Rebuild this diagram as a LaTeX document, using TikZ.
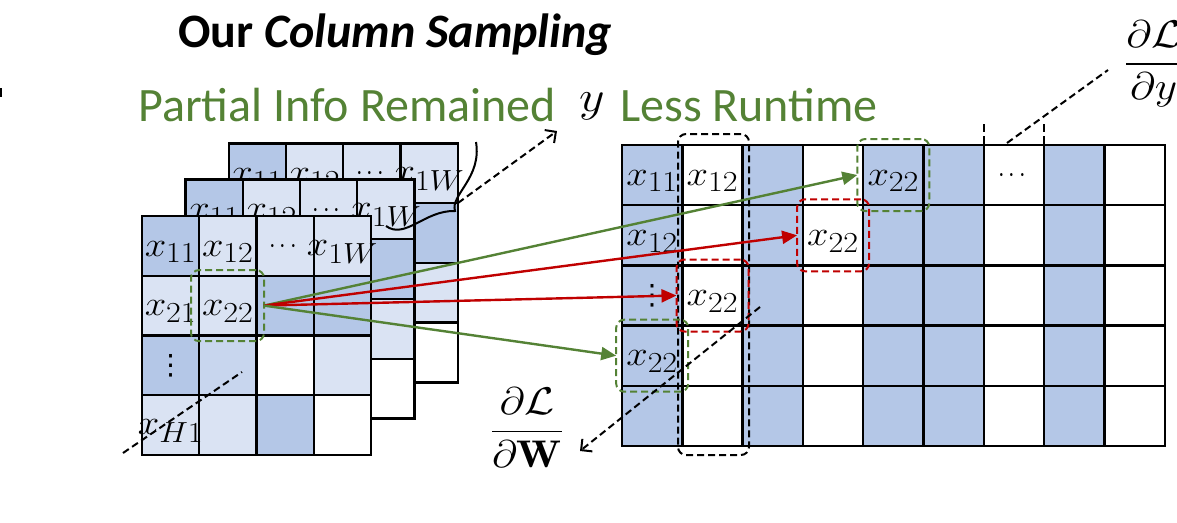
\RequirePackage{fix-cm}
\documentclass[tikz,border=0pt]{standalone}
\usepackage{amsmath}
\usepackage{graphicx}
\usepackage{fontspec}
\newfontfamily\carlito{Carlito}
\newfontfamily\djv{DejaVu Sans}
\usetikzlibrary{arrows.meta}
\definecolor{dblue}{HTML}{B4C7E7}
\definecolor{lblue}{HTML}{DAE3F3}
\definecolor{mblue}{HTML}{C8D6EE}
\definecolor{ogreen}{HTML}{548235}
\definecolor{ored}{HTML}{C00000}
\newcommand{\cellm}[1]{\scalebox{1.55}[1.4]{$#1$}}
\newcommand{\celldots}{\scalebox{0.95}[1.2]{$\cdots$}}
\newcommand{\vdotsglyph}{{\djv\fontsize{28}{30}\selectfont ⋮}}
\begin{document}
\begin{tikzpicture}[x=1pt,y=-1pt,
  gcell/.style={draw=black,line width=2.4pt,minimum width=57.25pt,minimum height=59.75pt,inner sep=0pt,outer sep=0pt},
  rcell/.style={draw=black,line width=2.4pt,minimum width=60.3pt,minimum height=60.2pt,inner sep=0pt,outer sep=0pt},
  ctext/.style={font=\fontsize{24.88}{26}\selectfont,inner sep=0pt,yshift=-6pt},
  dtext/.style={font=\fontsize{24.88}{26}\selectfont,inner sep=0pt,yshift=-1pt},
  vtext/.style={inner sep=0pt},
  dbox/.style={dash pattern=on 7pt off 4pt,line width=2pt,rounded corners=8pt,inner sep=0pt,outer sep=0pt},
  gbox/.style={dbox,draw=ogreen,minimum width=72pt,minimum height=72pt},
  rbox/.style={dbox,draw=ored,minimum width=72pt,minimum height=72pt},
  kbox/.style={dbox,draw=black},
  garrow/.style={draw=ogreen,line width=2.4pt,-{Triangle[length=15pt,width=13pt]}},
  rarrow/.style={draw=ored,line width=2.4pt,-{Triangle[length=15pt,width=13pt]}},
  dline/.style={draw=black,line width=2pt,dash pattern=on 7pt off 4pt},
  darrow/.style={dline,-{Straight Barb[length=8pt,width=16pt,line width=2pt]}},
  bigtext/.style={font=\carlito\fontsize{48}{50}\selectfont,inner sep=0pt,anchor=base west},
  fractext/.style={font=\fontsize{24.88}{26}\selectfont,inner sep=0pt}
]
\useasboundingbox (0,0) rectangle (1177,522);

% left edge mark
\draw[line width=2pt] (1,88) -- (1,97);

% titles
\node[bigtext] (title) at (178,47) {\bfseries Our \itshape Column Sampling};
\node[bigtext,text=ogreen] (partial) at (138,121) {Partial Info Remained};
\node[bigtext,text=ogreen] (less) at (620,121) {Less Runtime};
\node[fractext] (ylab) at (592,106) {\scalebox{2.0}[1.75]{$y$}};

% stacked input grids
\foreach \lay/\ox/\oy in {b/86.7/-72.7,m/43.5/-36.5,f/0/0}{
  \foreach \r/\c/\col in {1/1/dblue,1/2/lblue,1/3/lblue,1/4/lblue,
                          2/1/lblue,2/2/lblue,2/3/dblue,2/4/dblue,
                          3/1/dblue,3/2/mblue,3/3/white,3/4/lblue,
                          4/1/lblue,4/2/lblue,4/3/dblue,4/4/white}{
    \node[gcell,fill=\col] (\lay\r\c) at ({142+(\c-0.5)*57.25+\ox},{216+(\r-0.5)*59.75+\oy}) {};
  }
  \node[ctext] at (\lay11) {\cellm{x_{11}}};
  \node[ctext] at (\lay12) {\cellm{x_{12}}};
  \node[dtext] at (\lay13) {\celldots};
  \node[ctext] at (\lay14) {\cellm{x_{1W}}};
}
\node[ctext] at (f21) {\cellm{x_{21}}};
\node[ctext] at (f22) {\cellm{x_{22}}};
\node[vtext] at (f31) {\vdotsglyph};
\node[ctext] at (f41) {\cellm{x_{H1}}};

% brace and arrow to y
\draw[line width=2pt] (386,226) .. controls (405,240) and (425,210) .. (455,211)
      .. controls (450,195) and (482,178) .. (476,142);
\coordinate (bt) at (458,203);
\coordinate (yt) at (557,131);
\draw[darrow] (bt) -- (yt);

% diagonal dashed over front grid
\coordinate (fd1) at (123,453);
\coordinate (fd2) at (242,372);
\draw[dline] (fd1) -- (fd2);

% right grid
\foreach \c/\col in {1/dblue,2/white,3/dblue,4/white,5/dblue,6/dblue,7/white,8/dblue,9/white}{
  \foreach \r in {1,...,5}{
    \node[rcell,fill=\col] (r\r\c) at ({622+(\c-0.5)*60.3},{145+(\r-0.5)*60.2}) {};
  }
}
\node[ctext] at (r11) {\cellm{x_{11}}};
\node[ctext] at (r12) {\cellm{x_{12}}};
\node[ctext] at (r21) {\cellm{x_{12}}};
\node[vtext] at (r31) {\vdotsglyph};
\node[ctext] at (r32) {\cellm{x_{22}}};
\node[ctext] at (r41) {\cellm{x_{22}}};
\node[ctext] at (r24) {\cellm{x_{22}}};
\node[ctext] at (r15) {\cellm{x_{22}}};
\node[dtext] at (r17) {\celldots};

% dashed ticks at top right
\coordinate (t1a) at (983.8,124); \coordinate (t1b) at (983.8,145);
\coordinate (t2a) at (1044.1,124); \coordinate (t2b) at (1044.1,145);
\draw[dline,dash pattern=on 8pt off 4pt] (t1a) -- (t1b);
\draw[dline,dash pattern=on 8pt off 4pt] (t2a) -- (t2b);

% dashed boxes
\node[kbox,minimum width=71pt,minimum height=321pt] (kb) at (713.5,294.5) {};
\node[gbox,minimum width=73pt,minimum height=71pt] (fgb) at (227.5,305.6) {};
\node[gbox] (gb1) at (893.3,175) {};
\node[rbox] (rb1) at (833.1,235.3) {};
\node[rbox] (rb2) at (712.5,295.5) {};
\node[gbox] (gb2) at (652.2,355.7) {};

% fractions
\node[fractext] (dW) at (527,428) {\scalebox{1.75}[1.55]{$\dfrac{\partial\mathcal{L}}{\partial\mathbf{W}}$}};
\node[fractext,anchor=west] (dy) at (1124,64) {\scalebox{1.75}[1.55]{$\dfrac{\partial\mathcal{L}}{\partial y}$}};

% dashed connectors to fractions
\coordinate (wa) at (760,307);
\coordinate (wt) at (580,451);
\draw[darrow] (wa) -- (wt);
\coordinate (ya) at (1007,143);
\coordinate (yb) at (1108,70);
\draw[dline] (ya) -- (yb);

% arrows
\draw[garrow] (fgb.east) -- (gb1.west);
\draw[rarrow] (fgb.east) -- (rb1.west);
\draw[rarrow] (fgb.east) -- (rb2.west);
\draw[garrow] (fgb.east) -- (gb2.west);
\end{tikzpicture}
\end{document}
